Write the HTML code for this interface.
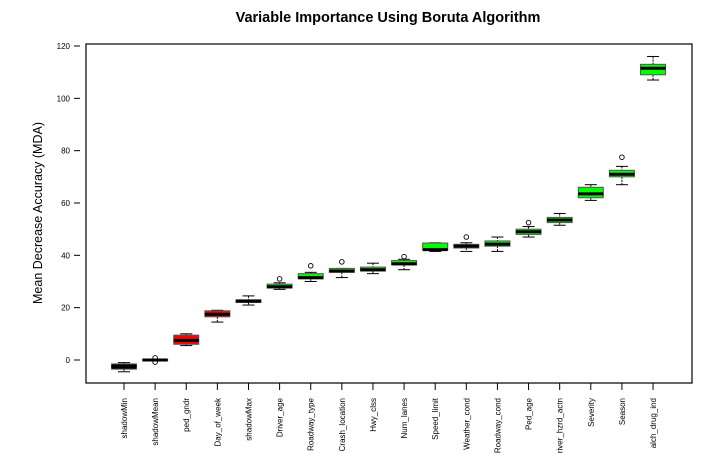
<!DOCTYPE html>
<html><head><meta charset="utf-8"><style>
html,body{margin:0;padding:0;background:#fff;}
svg{display:block;font-family:"Liberation Sans",Arial,sans-serif;}
</style></head><body>
<svg id="chart" width="724" height="466" viewBox="0 0 724 466">
<text x="388" y="22" text-anchor="middle" font-size="14.5" font-weight="bold">Variable Importance Using Boruta Algorithm</text>
<text transform="translate(42,213) rotate(-90)" text-anchor="middle" font-size="12.5">Mean Decrease Accuracy (MDA)</text>
<rect x="86" y="44" width="606" height="339" fill="none" stroke="#000" stroke-width="1.2"/>
<g id="yaxis"></g>
<g id="xaxis"></g>
<g id="boxes"></g>
</svg>
<script>
const categories=["shadowMin","shadowMean","ped_gndr","Day_of_week","shadowMax","Driver_age","Roadway_type","Crash_location","Hwy_clss","Num_lanes","Speed_limit","Weather_cond","Roadway_cond","Ped_age","river_hzrd_actn","Severity","Season","alch_drug_ind"];
const decisions=["shadow","shadow","rejected","rejected","shadow","confirmed","confirmed","confirmed","confirmed","confirmed","confirmed","confirmed","confirmed","confirmed","confirmed","confirmed","confirmed","confirmed"];
const medians=[-2.5,0,7.5,17.5,22.5,28,31.5,34,34.5,36.8,42.2,43.5,44.3,49,53.5,63.5,71,111.5];
const q1=[-3.5,-0.3,6,16.5,22,27.5,31,33.5,34,36.3,42,42.8,43.5,48,52.5,62,70,109];
const q3=[-1.5,0.3,9.5,18.8,23,29,33,35,35.5,38,44.7,44.2,45.5,50,54.5,66,72.5,113];
const whiskLo=[-4.5,-0.3,5.5,14.5,21,27,30,31.5,33,34.5,41.5,41.5,41.5,47,51.5,61,67,107];
const whiskHi=[-1,0.3,10,19,24.5,29.5,33.5,35,37,38.5,44.8,44.8,47,51,56,67,74,116];
const outliers=[[],[0.8,-0.8],[],[],[],[31],[36],[37.5],[],[39.5],[],[47],[],[52.5],[],[],[77.5],[]];
const yTicks=[0,20,40,60,80,100,120];

const NS="http://www.w3.org/2000/svg";
const yS=v=>360-v*(314/120);
const xS=i=>124+i*31.12;
function mk(tag,attrs,parent){const e=document.createElementNS(NS,tag);for(const k in attrs)e.setAttribute(k,attrs[k]);parent.appendChild(e);return e;}
const ya=document.getElementById('yaxis'),xa=document.getElementById('xaxis'),bx=document.getElementById('boxes');
yTicks.forEach(t=>{
  const y=yS(t);
  const l=mk('line',{x1:74,x2:80,y1:y,y2:y,stroke:'#000'},ya);
  
  
  const tx=mk('text',{x:70,y:y+3,'text-anchor':'end','font-size':'8'},ya);
  tx.textContent=t;
  
  
});
const fills={shadow:'#000',rejected:'#ff0000',confirmed:'#00ff00'};
categories.forEach((c,i)=>{
  const x=xS(i),w=25;
  const tk=mk('line',{x1:x,x2:x,y1:383,y2:390,stroke:'#000'},xa);
  
  
  const lb=mk('text',{transform:`translate(${x+3},398) rotate(-90)`,'text-anchor':'end','font-size':'8'},xa);
  lb.textContent=c;
  
  
  const g=mk('g',{},bx);
  
  
  mk('line',{x1:x,x2:x,y1:yS(whiskHi[i]),y2:yS(q3[i]),stroke:'#000','stroke-dasharray':'2,1'},g);
  mk('line',{x1:x,x2:x,y1:yS(q1[i]),y2:yS(whiskLo[i]),stroke:'#000','stroke-dasharray':'2,1'},g);
  mk('line',{x1:x-6,x2:x+6,y1:yS(whiskHi[i]),y2:yS(whiskHi[i]),stroke:'#000'},g);
  mk('line',{x1:x-6,x2:x+6,y1:yS(whiskLo[i]),y2:yS(whiskLo[i]),stroke:'#000'},g);
  const top=yS(q3[i]),bot=yS(q1[i]);
  mk('rect',{x:x-w/2,y:top,width:w,height:Math.max(bot-top,1.5),fill:fills[decisions[i]],stroke:'#555','stroke-width':1},g);
  mk('line',{x1:x-w/2,x2:x+w/2,y1:yS(medians[i]),y2:yS(medians[i]),stroke:'#000','stroke-width':3},g);
  outliers[i].forEach(o=>{mk('circle',{cx:x,cy:yS(o),r:2.3,fill:'none',stroke:'#000','stroke-width':0.9},g);});
});
</script>
</body></html>
